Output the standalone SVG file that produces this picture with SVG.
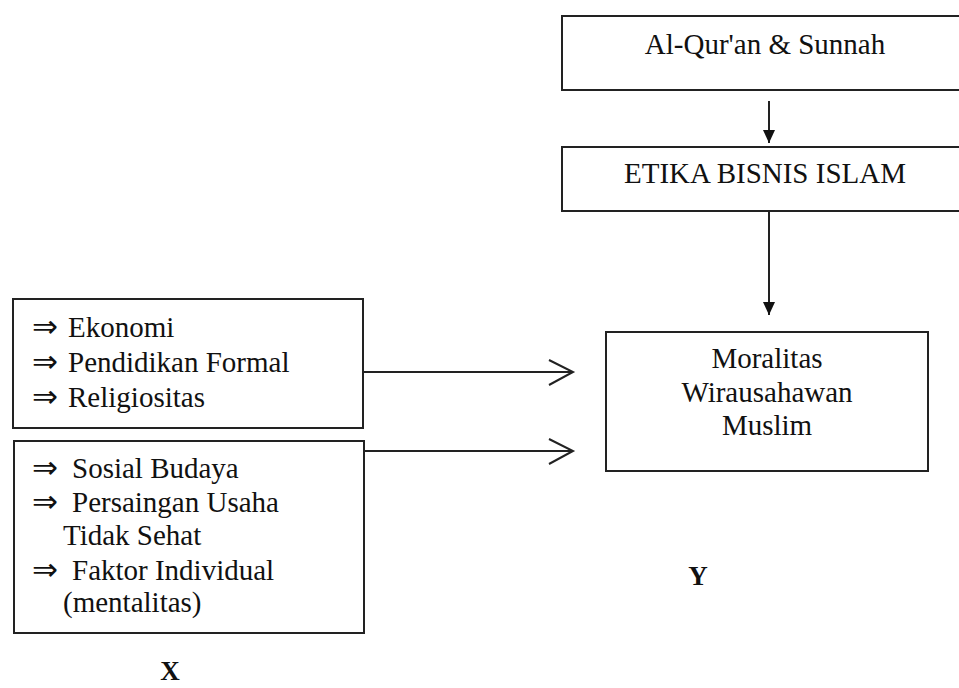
<svg xmlns="http://www.w3.org/2000/svg" width="959" height="688" viewBox="0 0 959 688">
<style>
.box{fill:#fff;stroke:#222;stroke-width:2}
.ln{stroke:#222;stroke-width:2;fill:none}
text{font-family:"Liberation Serif",serif;font-size:29px;fill:#111}
.c{text-anchor:middle}
.a{font-size:31px}
.lbl{font-size:27px;font-weight:bold;text-anchor:middle}
</style>
<defs>
<marker id="tri" markerWidth="14" markerHeight="12" refX="13" refY="6" orient="auto" markerUnits="userSpaceOnUse" viewBox="0 0 14 12">
<path d="M0,0 L13,6 L0,12 Z" fill="#111"/>
</marker>
</defs>
<rect width="959" height="688" fill="#fff"/>
<g id="quran">
<rect class="box" x="562" y="16" width="420" height="74"/>
<text class="c" x="765" y="54">Al-Qur'an &amp; Sunnah</text>
</g>
<g id="etika">
<rect class="box" x="562" y="147" width="420" height="64"/>
<text class="c" x="765" y="183">ETIKA BISNIS ISLAM</text>
</g>
<g id="moralitas">
<rect class="box" x="606" y="332" width="322" height="139"/>
<text class="c" x="767" y="368">Moralitas</text>
<text class="c" x="767" y="402">Wirausahawan</text>
<text class="c" x="767" y="435">Muslim</text>
</g>
<g id="faktor1">
<rect class="box" x="13" y="299" width="350" height="129"/>
<text y="337"><tspan class="a" x="32">⇒</tspan><tspan x="68">Ekonomi</tspan></text>
<text y="372"><tspan class="a" x="32">⇒</tspan><tspan x="68">Pendidikan Formal</tspan></text>
<text y="407"><tspan class="a" x="32">⇒</tspan><tspan x="68">Religiositas</tspan></text>
</g>
<g id="faktor2">
<rect class="box" x="14" y="441" width="350" height="192"/>
<text y="478"><tspan class="a" x="32">⇒</tspan><tspan x="72">Sosial Budaya</tspan></text>
<text y="512"><tspan class="a" x="32">⇒</tspan><tspan x="72">Persaingan Usaha</tspan></text>
<text x="63" y="545">Tidak Sehat</text>
<text y="580"><tspan class="a" x="32">⇒</tspan><tspan x="72">Faktor Individual</tspan></text>
<text x="63" y="612">(mentalitas)</text>
</g>
<g id="label-x"><text class="lbl" x="170" y="680">X</text></g>
<g id="label-y"><text class="lbl" x="698" y="585">Y</text></g>
<g id="connectors">
<line class="ln" x1="769" y1="101" x2="769" y2="143" marker-end="url(#tri)"/>
<line class="ln" x1="769" y1="211" x2="769" y2="315" marker-end="url(#tri)"/>
<line class="ln" x1="363" y1="372" x2="573" y2="372"/>
<polyline class="ln" points="549,360 573,372 549,385"/>
<line class="ln" x1="364" y1="451" x2="573" y2="451"/>
<polyline class="ln" points="549,439 573,451 549,464"/>
</g>
</svg>
